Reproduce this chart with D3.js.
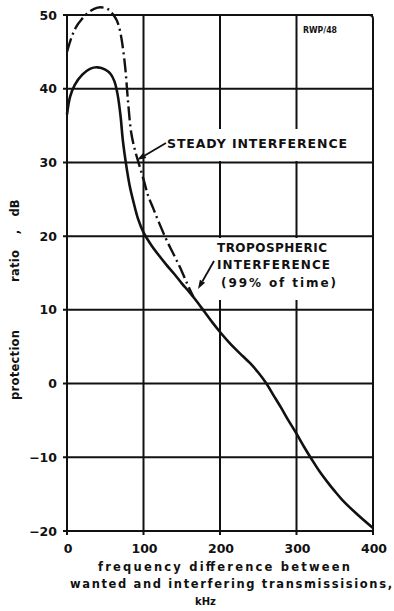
<!DOCTYPE html>
<html>
<head>
<meta charset="utf-8">
<script src="https://cdn.jsdelivr.net/npm/d3@7"></script>
<style>
  html, body { margin: 0; padding: 0; background: #fff; }
  svg { display: block; }
  text { font-family: "DejaVu Sans", sans-serif; font-weight: bold; fill: #111; }
</style>
</head>
<body>
<script>
// Frequency difference (kHz) and protection ratio (dB)
const xTicks = [0, 100, 200, 300, 400];
const yTicks = [-20, -10, 0, 10, 20, 30, 40, 50];

// Tropospheric interference (99% of time) — solid curve
const troposphericFreq = [0, 4, 10, 20, 30, 40, 50, 57, 62, 66, 70, 73, 77, 82, 87, 93, 100, 110, 120, 130, 140, 150, 160, 170, 180, 190, 200, 210, 220, 230, 240, 250, 260, 270, 280, 290, 300, 310, 320, 330, 340, 350, 360, 380, 400];
const troposphericRatio = [36.5, 38.9, 40.5, 41.9, 42.7, 42.9, 42.6, 42.0, 41.0, 39.3, 36.3, 33.0, 29.9, 26.8, 24.6, 22.3, 20.5, 18.8, 17.4, 16.1, 14.9, 13.6, 12.4, 11.1, 9.7, 8.3, 7.0, 5.8, 4.7, 3.7, 2.7, 1.5, 0.1, -1.6, -3.3, -5.1, -6.8, -8.6, -10.3, -11.9, -13.3, -14.6, -15.8, -17.8, -19.6];

// Steady interference — dash-dot curve, merging into the solid one
const steadyFreq = [0, 6, 12, 19, 30, 40, 48, 55, 60, 65, 69, 72, 76, 80, 84, 89, 94, 100, 106, 113, 120, 130, 140, 148, 156, 165];
const steadyRatio = [45.0, 47.0, 48.4, 49.4, 50.5, 51.0, 51.0, 50.7, 50.1, 49.3, 48.0, 46.3, 43.0, 38.0, 34.0, 31.6, 29.8, 27.7, 25.5, 23.7, 21.9, 19.5, 17.4, 15.7, 13.8, 11.8];

const W = 394, H = 611;
const svg = d3.select("body").append("svg")
  .attr("width", W).attr("height", H)
  .attr("viewBox", `0 0 ${W} ${H}`);
svg.append("rect").attr("width", W).attr("height", H).attr("fill", "#fff");

const x = d3.scaleLinear().domain([0, 400]).range([67, 373]);
const y = d3.scaleLinear().domain([-20, 50]).range([531, 15]);

const ink = "#111";
const grid = svg.append("g").attr("stroke", ink).attr("stroke-width", 2).attr("fill", "none");

// horizontal grid lines, with short stubs to the left of the frame
grid.selectAll("line.h").data(yTicks).join("line")
  .attr("class", "h")
  .attr("x1", x(0) - 4).attr("x2", x(400))
  .attr("y1", d => y(d)).attr("y2", d => y(d));

// vertical grid lines, with stubs below the frame
grid.selectAll("line.v").data(xTicks.filter(d => d < 400)).join("line")
  .attr("class", "v")
  .attr("x1", d => x(d)).attr("x2", d => x(d))
  .attr("y1", y(50)).attr("y2", y(-20) + 4);

// right edge of the frame with a rounded top corner
const r = 4;
grid.append("path")
  .attr("d", `M${x(400) - r},${y(50)} Q${x(400)},${y(50)} ${x(400)},${y(50) + r} L${x(400)},${y(-20) + 4}`);

// white panels behind the curve labels
svg.append("rect").attr("x", 148).attr("y", 129).attr("width", x(400) - 149).attr("height", 32).attr("fill", "#fff");
svg.append("rect").attr("x", 212).attr("y", 238).attr("width", x(400) - 213).attr("height", 62).attr("fill", "#fff");

// axis tick labels
svg.append("g").selectAll("text").data(yTicks).join("text")
  .attr("x", 57).attr("y", d => y(d) + 4.5)
  .attr("text-anchor", "end").attr("font-size", 12.5)
  .text(d => d === 0 ? "0" : (d < 0 ? "\u2212" + Math.abs(d) : d));

svg.append("g").selectAll("text").data(xTicks).join("text")
  .attr("x", d => x(d) + 1).attr("y", 553)
  .attr("text-anchor", "middle").attr("font-size", 12.5)
  .text(d => d);

// curves
const line = d3.line().x(d => x(d[0])).y(d => y(d[1])).curve(d3.curveCatmullRom.alpha(0.5));

svg.append("path")
  .datum(steadyFreq.map((f, i) => [f, steadyRatio[i]]))
  .attr("d", line)
  .attr("fill", "none").attr("stroke", ink).attr("stroke-width", 2.4)
  .attr("stroke-dasharray", "14,4,2,4");

svg.append("path")
  .datum(troposphericFreq.map((f, i) => [f, troposphericRatio[i]]))
  .attr("d", line)
  .attr("fill", "none").attr("stroke", ink).attr("stroke-width", 2.6);

// arrows pointing at the curves
function arrow(x1, y1, x2, y2) {
  const a = Math.atan2(y2 - y1, x2 - x1);
  const L = 9, w = 3;
  const bx = x2 - L * Math.cos(a), by = y2 - L * Math.sin(a);
  svg.append("line").attr("x1", x1).attr("y1", y1).attr("x2", bx).attr("y2", by)
    .attr("stroke", ink).attr("stroke-width", 1.8);
  svg.append("path")
    .attr("d", `M${x2},${y2} L${bx - w * Math.sin(a)},${by + w * Math.cos(a)} L${bx + w * Math.sin(a)},${by - w * Math.cos(a)} Z`)
    .attr("fill", ink);
}
arrow(166, 143, 137, 160);
arrow(214, 261, 198, 289);

// curve labels
svg.append("text").attr("x", 167).attr("y", 148).attr("font-size", 12.5)
  .attr("textLength", 180).attr("lengthAdjust", "spacing")
  .text("STEADY  INTERFERENCE");

const tropo = [["TROPOSPHERIC", 217, 252, 110], ["INTERFERENCE", 217, 269, 113], ["(99% of time)", 221, 287, 115]];
svg.append("g").selectAll("text").data(tropo).join("text")
  .attr("x", d => d[1]).attr("y", d => d[2]).attr("font-size", 12)
  .attr("textLength", d => d[3]).attr("lengthAdjust", "spacing")
  .text(d => d[0]);

// drawing reference mark
svg.append("text").attr("x", 303).attr("y", 33).attr("font-size", 8)
  .attr("textLength", 34).attr("lengthAdjust", "spacingAndGlyphs")
  .text("RWP/48");

// y axis title
const yTitle = [["protection", 365, 70], ["ratio", 266, 32], [",", 232, 4], ["dB", 208, 17]];
svg.append("g").selectAll("text").data(yTitle).join("text")
  .attr("transform", d => `translate(19,${d[1]}) rotate(-90)`)
  .attr("text-anchor", "middle").attr("font-size", 11.5)
  .attr("textLength", d => d[2]).attr("lengthAdjust", "spacing")
  .text(d => d[0]);

// x axis title
const xTitle = [["frequency  difference  between", 98, 571, 252], ["wanted and interfering transmissisions,", 70, 588, 322]];
svg.append("g").selectAll("text").data(xTitle).join("text")
  .attr("x", d => d[1]).attr("y", d => d[2]).attr("font-size", 11.5)
  .attr("textLength", d => d[3]).attr("lengthAdjust", "spacing")
  .text(d => d[0]);
svg.append("text").attr("x", 195).attr("y", 605).attr("font-size", 10).text("kHz");
</script>
</body>
</html>
